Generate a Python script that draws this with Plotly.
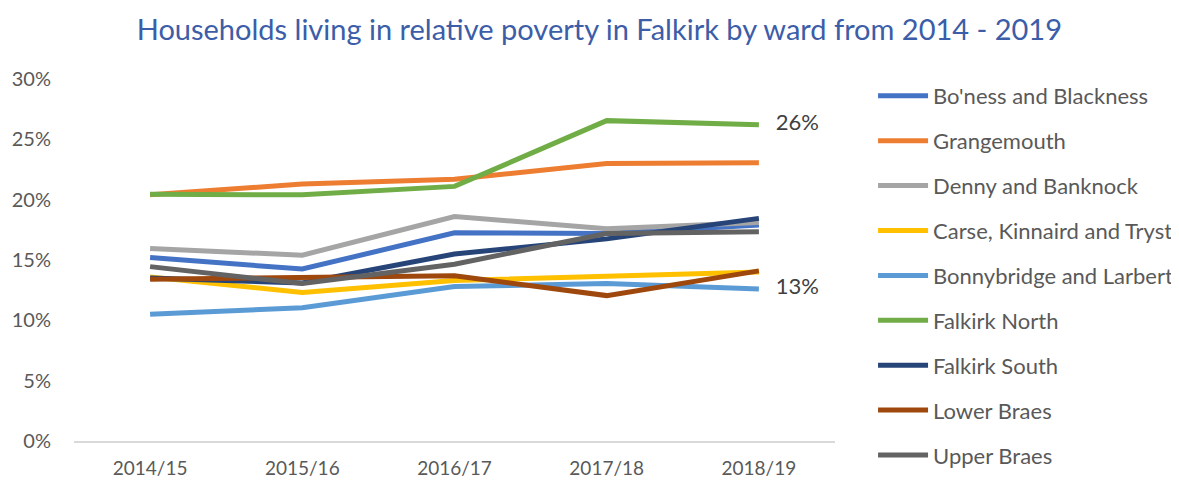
import plotly.graph_objects as go

years = ["2014/15", "2015/16", "2016/17", "2017/18", "2018/19"]

boness = [15.2, 14.25, 17.25, 17.2, 17.9]
grangemouth = [20.4, 21.3, 21.7, 23.0, 23.05]
denny = [15.95, 15.4, 18.6, 17.6, 18.1]
carse = [13.6, 12.3, 13.3, 13.6, 14.0]
bonnybridge = [10.5, 11.05, 12.8, 13.05, 12.6]
falkirk_north = [20.45, 20.4, 21.1, 26.55, 26.2]
falkirk_south = [13.5, 13.1, 15.5, 16.75, 18.45]
lower_braes = [13.4, 13.5, 13.7, 12.05, 14.1]
upper_braes = [14.45, 13.05, 14.65, 17.2, 17.35]

series = [
    ("Bo'ness and Blackness", boness, "#4472C4"),
    ("Grangemouth", grangemouth, "#ED7D31"),
    ("Denny and Banknock", denny, "#A5A5A5"),
    ("Carse, Kinnaird and Tryst", carse, "#FFC000"),
    ("Bonnybridge and Larbert", bonnybridge, "#5B9BD5"),
    ("Falkirk North", falkirk_north, "#70AD47"),
    ("Falkirk South", falkirk_south, "#264478"),
    ("Lower Braes", lower_braes, "#9E480E"),
    ("Upper Braes", upper_braes, "#636363"),
]
labelled = ["Falkirk North", "Bonnybridge and Larbert"]

W, H = 1171, 476  # page body has an 8px margin

fig = go.Figure()
for name, vals, col in series:
    v = [x / 100 for x in vals]
    show = name in labelled
    txt = [""] * (len(v) - 1) + ["   " + format(v[-1], ".0%")] if show else None
    fig.add_trace(go.Scatter(
        x=years, y=v, name=name, legendgroup=name,
        mode="lines+text" if show else "lines",
        text=txt,
        textposition="middle right",
        textfont=dict(family="Lato, Open Sans, sans-serif", size=22, color="#404040"),
        line=dict(color=col, width=5),
        cliponaxis=False,
    ))

fig.update_layout(
    width=W, height=H,
    paper_bgcolor="white", plot_bgcolor="white",
    margin=dict(l=66, r=344, t=71, b=43, autoexpand=False),
    title=dict(text="Households living in relative poverty in Falkirk by ward from 2014 - 2019",
               x=0.505, xanchor="center", y=1 - 22 / H, yanchor="middle",
               font=dict(family="Lato, Open Sans, sans-serif", size=29, color="#3C5DA8")),
    font=dict(family="Lato, Open Sans, sans-serif", size=19, color="#595959"),
    legend=dict(x=1.050, xanchor="left", yref="container", y=1 - 67 / H, yanchor="top",
                font=dict(size=22, color="#595959"), maxheight=440,
                tracegroupgap=13.3, itemwidth=50, traceorder="grouped"),
    showlegend=True,
)
fig.update_xaxes(showline=True, linecolor="#D9D9D9", linewidth=1.5, showgrid=False,
                 range=[-0.5, 4.5], ticks="", ticklabelstandoff=9,
                 tickfont=dict(size=19, color="#595959"))
fig.update_yaxes(range=[0, 0.30], dtick=0.05, tickformat=".0%", showgrid=False,
                 showline=False, zeroline=False, ticks="", ticklabelstandoff=22,
                 tickfont=dict(size=20, color="#595959"))

fig.write_html("out.html")
